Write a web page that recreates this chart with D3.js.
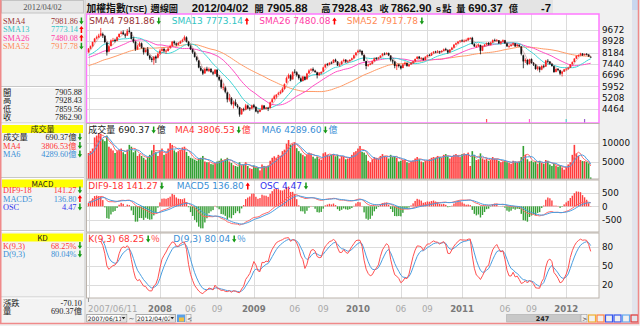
<!DOCTYPE html>
<html><head><meta charset="utf-8">
<script src="https://cdn.jsdelivr.net/npm/d3@7"></script>
<style>body{margin:0;background:#f0f0f0}svg{display:block}</style>
</head><body>
<svg id="c" width="640" height="326"></svg>
<script>
// ---- weekly TAIEX data, 2007/06/11 .. 2012/04/02 (247 weeks) ----
// closes of the 51 weeks before the window (warm-up for the averages)
const priorCloses = [6300,6400,6700,6700,6500,6300,6450,6460,6500,6600,6550,6600,6650,6750,6800,6880,6950,6900,7050,7000,7020,7150,7200,7250,7100,7300,7450,7600,7823,7800,7650,7750,7700,7700,7750,7850,7900,7600,7700,7900,7884,7950,7900,7900,7800,7900,8000,8050,8100,8144,8200];
const priorVolumes = [6200,6800,6500,7000,6600];

const opens = [8200,8450,8610,8890,9110,9190,9310,9400,9280,8850,
8250,8620,8990,9020,8960,9210,9420,9510,9380,9310,
9620,9530,9080,8880,8420,8600,8790,8480,8220,8400,
7980,7790,7680,7920,7850,8110,8300,8420,8280,8290,
8500,8620,8910,8790,8690,8810,8930,9010,9180,8890,
8600,8390,8180,7880,7650,7180,7020,6820,7120,6980,
7110,6880,6790,7050,6580,6380,5850,5880,5550,5080,
5180,4780,4920,4680,4580,4120,4450,4420,4690,4520,
4490,4710,4590,4310,4280,4420,4690,4480,4540,4520,
4910,5120,5280,5420,5510,5590,5790,6200,6510,6680,
6420,6920,6880,6710,6480,6310,6590,6420,6810,7010,
7090,6980,6880,6690,6810,6920,7210,7420,7390,7520,
7510,7710,7590,7330,7410,7610,7710,7560,7620,7710,
7810,8010,8200,8310,8290,8020,7620,7320,7420,7450,
7610,7820,7790,7860,7990,8110,8090,8160,7990,7680,
7590,7280,7390,7290,7170,7410,7490,7280,7410,7510,
7610,7770,7910,7790,7810,7690,7910,8010,7990,8160,
8250,8190,8260,8210,8290,8410,8340,8210,8380,8510,
8710,8790,8910,8980,8940,8970,9010,9140,9150,8740,
8590,8610,8690,8310,8610,8710,8810,8690,8860,9010,
8990,8990,8790,8910,8990,8790,8590,8610,8710,8790,
8610,8690,8580,8000,7620,7690,7430,7750,7480,7390,
7110,7210,7060,7310,7260,7640,7590,7440,7290,6910,
7110,7010,6790,6940,7080,7110,7190,7410,7560,7790,
7970,8010,8110,8020,8080,8050,7905.88];

const highs = [8480,8650,8900,9150,9300,9420,9807,9500,9350,8900,
8700,9050,9150,9100,9250,9450,9600,9650,9450,9740,
9860,9550,9200,8950,8700,8900,8850,8520,8450,8550,
8050,7900,7950,8000,8200,8400,8500,8500,8400,8550,
8700,8950,8980,8850,8880,8980,9100,9309,9250,8950,
8700,8450,8250,7950,7700,7300,7100,7200,7250,7200,
7150,6950,7100,7080,6700,6450,6150,5950,5600,5450,
5250,5000,5100,4800,4600,4520,4550,4800,4750,4600,
4750,4800,4650,4400,4450,4750,4720,4600,4600,4950,
5200,5400,5450,5600,5700,5900,6150,6600,6800,6750,
6950,7084,6950,6750,6550,6650,6620,6850,7080,7150,
7200,7050,6900,6900,6950,7250,7450,7500,7550,7600,
7750,7780,7620,7480,7650,7780,7750,7700,7750,7850,
8050,8200,8380,8395,8330,8060,7650,7450,7520,7650,
7850,7880,7900,8000,8150,8190,8200,8180,8000,7750,
7620,7400,7450,7350,7450,7600,7520,7450,7560,7650,
7800,7950,7960,7880,7850,7950,8050,8100,8200,8280,
8300,8350,8300,8350,8450,8500,8400,8420,8560,8750,
8850,8950,9000,9050,9050,9100,9180,9200,9220,8800,
8700,8780,8700,8650,8750,8850,8880,8900,9050,9100,
9080,9010,8950,9050,9020,8820,8700,8750,8850,8800,
8750,8720,8600,8050,7800,7750,7780,7800,7560,7420,
7300,7280,7350,7400,7700,7750,7620,7480,7300,7150,
7150,7050,6950,7100,7180,7250,7430,7600,7820,8000,
8060,8170,8150,8120,8150,8080,7928.43];

const lows = [8180,8400,8560,8850,9050,9150,9280,9150,8800,7987,
8200,8580,8900,8850,8940,9180,9380,9350,9150,9280,
9500,9050,8800,8300,8350,8560,8450,8050,8180,7950,
7700,7550,7384,7500,7800,8050,8250,8200,8100,8250,
8450,8600,8700,8600,8650,8750,8880,8980,8850,8580,
8350,8100,7850,7600,7150,6950,6708,6780,6950,6900,
6850,6700,6750,6550,6300,5800,5700,5500,4900,4950,
4700,4500,4650,4500,3955,4080,4300,4380,4450,4350,
4450,4500,4250,4150,4250,4400,4450,4420,4328,4500,
4880,5080,5150,5380,5450,5550,5750,6150,6450,6300,
6400,6800,6600,6400,6250,6280,6350,6400,6780,6950,
6950,6850,6480,6650,6750,6900,7180,7300,7350,7420,
7480,7550,7300,7250,7380,7580,7500,7500,7580,7680,
7780,7990,8150,8220,7980,7600,7080,7250,7350,7420,
7590,7700,7720,7820,7950,8020,8050,7950,7600,7450,
7150,7032,7200,7070,7150,7380,7250,7250,7380,7450,
7580,7750,7750,7700,7650,7680,7880,7950,7970,8100,
8150,8150,8100,8180,8270,8300,8100,8150,8350,8480,
8680,8750,8860,8880,8850,8900,8950,9080,8700,8550,
8500,8550,8070,8280,8580,8650,8650,8650,8820,8920,
8900,8750,8700,8850,8750,8550,8500,8580,8650,8550,
8560,8550,8000,7150,7500,7350,7400,7450,7300,7050,
7000,6877,7020,7150,7250,7500,7380,7250,6850,6880,
6950,6700,6609,6900,7000,7050,7160,7380,7540,7760,
7900,7980,7960,7980,8000,7900,7859.56];

const closes = [8443,8600,8883,9100,9200,9300,9450,9300,8880,8200,
8600,8982,9000,8950,9200,9411,9500,9400,9300,9600,
9550,9100,8900,8400,8586,8800,8500,8200,8350,8000,
7800,7700,7900,7800,8100,8300,8412,8300,8300,8450,
8600,8900,8800,8700,8800,8919,9000,9200,8900,8619,
8400,8200,7900,7700,7200,7000,6800,7100,7000,7100,
6900,6800,7046,6600,6400,5900,5900,5600,5100,5200,
4800,4900,4700,4600,4100,4460,4400,4700,4500,4500,
4700,4600,4300,4250,4400,4700,4500,4557,4500,4900,
5100,5300,5400,5500,5600,5800,6100,6500,6700,6400,
6890,6900,6700,6500,6300,6600,6400,6800,7000,7078,
7000,6900,6700,6825,6900,7200,7400,7400,7509,7500,
7700,7600,7340,7400,7600,7700,7582,7600,7700,7800,
8000,8188,8300,8300,8050,7640,7300,7400,7436,7600,
7800,7800,7850,7980,8100,8100,8150,8004,7700,7600,
7300,7374,7300,7150,7400,7500,7300,7400,7500,7600,
7760,7900,7800,7800,7700,7900,8000,8000,8150,8238,
8200,8250,8200,8287,8400,8350,8200,8372,8500,8700,
8800,8900,8973,8950,8960,9000,9140,9145,8750,8600,
8600,8700,8300,8600,8700,8800,8700,8850,9000,9000,
9000,8800,8900,9000,8800,8600,8600,8700,8800,8600,
8700,8600,8100,7600,7700,7426.48,7741,7500,7400,7100,
7225,7050,7300,7250,7650,7600,7450,7300,6900,7100,
7029.26,6800,6930,7072,7120,7180,7400,7550,7780,7960,
8000,8120,8013.38,8074.38,8057.16,7933,7862.90];

// weekly turnover, 億元
const volumes = [7300,7800,8500,11500,12000,12700,12500,11000,10500,12000,
9000,8500,8000,7300,7800,8200,8500,7500,7000,8200,
9500,9000,7500,8000,6500,7000,6500,6000,5500,6200,
6800,8000,9500,7500,6500,8000,8500,6800,7200,8500,
10000,9500,8000,7500,7800,8200,8800,9000,7600,6500,
6000,5800,5500,5200,5800,6000,6500,5000,4800,4800,
4300,4200,4600,5000,5200,5800,5200,5600,6000,5000,
4600,4000,3800,3600,4800,4000,4200,4800,3800,3200,
3000,3900,3400,3300,2600,4200,3800,3600,3800,5200,
6000,6400,6000,6800,6500,7800,8200,9800,10800,9500,
9800,10200,8600,7800,7200,6800,6400,6800,7400,7200,
6300,5800,6200,5800,5500,7200,7500,6800,6500,6800,
7000,6400,6800,5800,6500,6400,5600,5800,6200,6800,
7500,7800,8500,9200,7600,7400,6800,5200,4800,5600,
6200,6000,5800,6500,7000,6500,6200,5800,6800,6200,
6500,6000,5000,5200,5400,5600,4800,4600,5000,5300,
5800,6200,5600,5000,4800,5200,5400,5600,6000,6200,
6000,6500,6200,6000,6800,7000,6400,5800,6200,6800,
7000,6600,6200,7000,7200,7000,7400,3800,7800,6800,
5400,5600,7200,5800,5500,5800,5200,5400,6200,5800,
5600,5200,4800,5000,5200,4800,4600,4400,5200,5000,
4800,4900,6200,9200,6800,5600,5000,5200,4800,5000,
4400,5200,4600,4400,5400,5200,4200,3800,4400,3900,
3600,3800,3400,2800,3600,4200,4800,6800,9500,7200,
6500,5400,5111.48,5100,4935.75,4500,690.37];

// x-axis labels (bar index, text, year?)
const xTicks = [[0,'2007/06/11',0],[35,'2008',1],[50,'06',0],[63,'09',0],[81,'2009',1],[101,'06',0],[115,'09',0],
  [132,'2010',1],[153,'06',0],[166,'09',0],[183,'2011',1],[204,'06',0],[217,'09',0],[234,'2012',1]];
const priceTicks = [9672,8928,8184,7440,6696,5952,5208,4464];
const volTicks = [10000,5000];
const macdTicks = [500,0,-500];
const kdTicks = [80,50,20];
// event marks under the price panel
const eventMarks = [[195,'#ff5555'],[216,'#ff66cc'],[234,'#55cccc'],[243,'#9966cc']];

// readouts of the last week
const lastDate = '2012/04/02';
const ohlcRows = [['開','7905.88'],['高','7928.43'],['低','7859.56'],['收','7862.90']];
const macdText = ['141.27','136.80','4.47'];
const kdText = ['68.25','80.04'];
const change = '-70.10';

// ---------------------------------------------------------------
const svg = d3.select('#c');
const F_SANS = "'DejaVu Sans','Noto Sans CJK TC',sans-serif";
const F_CJK = "'Noto Sans CJK TC','DejaVu Sans',sans-serif";
const F_SERIF = "'Liberation Serif','Noto Sans CJK TC',serif";
const F_BOLD = "'Liberation Sans','Noto Sans CJK TC',sans-serif";
const BLUE = '#4a9ee0';

const n = closes.length, P = priorCloses.length;
const PL = 86.5, PR = 599;
const x = d3.scaleLinear().domain([0, n - 1]).range([88.5, 590.7]);
const pan = {
  price: [14, 123], vol: [123.5, 179], macd: [180, 232], kd: [233, 298]
};
const yPrice = d3.scaleLinear().domain([4464, 9672]).range([109, 30]);
const yVol = d3.scaleLinear().domain([0, 10000]).range([180, 143]);
const yMacd = d3.scaleLinear().domain([-500, 500]).range([219.5, 193.2]);
const yKd = d3.scaleLinear().domain([20, 80]).range([285, 246.7]);

// ---- indicators ----
const allC = priorCloses.concat(closes);
const allH = priorCloses.concat(highs);
const allL = priorCloses.concat(lows);
const allV = priorVolumes.concat(volumes);
function sma(arr, len, off) {
  return d3.range(n).map(i => d3.mean(arr.slice(i + off - len + 1, i + off + 1)));
}
function ema(arr, len) {
  const a = 2 / (len + 1), out = [];
  arr.forEach((v, k) => out.push(k === 0 ? v : out[k - 1] + a * (v - out[k - 1])));
  return out;
}
const sma4 = sma(allC, 4, P), sma13 = sma(allC, 13, P), sma26 = sma(allC, 26, P), sma52 = sma(allC, 52, P);
const vma4 = sma(allV, 4, priorVolumes.length), vma6 = sma(allV, 6, priorVolumes.length);
const e9 = ema(allC, 9), e18 = ema(allC, 18);
const difAll = e9.map((v, k) => v - e18[k]);
const macdAll = ema(difAll, 5);
const dif = difAll.slice(P), macd = macdAll.slice(P);
const osc = dif.map((v, i) => v - macd[i]);
const kAll = [], dAll = [];
let kp = 50, dp = 50;
allC.forEach((c, k) => {
  const lo = d3.min(allL.slice(Math.max(0, k - 8), k + 1));
  const hi = d3.max(allH.slice(Math.max(0, k - 8), k + 1));
  const rsv = hi > lo ? (c - lo) / (hi - lo) * 100 : 50;
  kp = kp * 2 / 3 + rsv / 3; dp = dp * 2 / 3 + kp / 3;
  kAll.push(kp); dAll.push(dp);
});
const kv = kAll.slice(P), dv = dAll.slice(P);
const prevClose = i => allC[i + P - 1];

// ---- background & frame ----
svg.append('rect').attr('width', 640).attr('height', 326).attr('fill', '#f0f0f0');
svg.append('rect').attr('x', 85).attr('y', 0).attr('width', 468).attr('height', 14).attr('fill', '#e4e4e4');
svg.append('rect').attr('x', 632).attr('y', 0).attr('width', 6).attr('height', 323).attr('fill', '#e2e4ec');
svg.append('rect').attr('x', 632).attr('y', 0).attr('width', 6).attr('height', 10).attr('fill', '#c9d6ee');

// panels
const defs = svg.append('defs');
Object.entries(pan).forEach(([k, [t, b]]) => {
  svg.append('rect').attr('x', PL).attr('y', t).attr('width', PR - PL).attr('height', b - t).attr('fill', '#fff');
  defs.append('clipPath').attr('id', 'cp-' + k).append('rect')
    .attr('x', PL).attr('y', t).attr('width', PR - PL).attr('height', b - t);
});

// grid
const grid = svg.append('g').attr('stroke', '#dcdcdc').attr('stroke-width', 1);
Object.values(pan).forEach(([t, b]) => {
  xTicks.forEach(d => grid.append('line').attr('x1', Math.round(x(d[0])) + 0.5).attr('x2', Math.round(x(d[0])) + 0.5).attr('y1', t).attr('y2', b));
});
function hgrid(ticks, y) {
  ticks.forEach(v => grid.append('line').attr('x1', PL).attr('x2', PR).attr('y1', Math.round(y(v)) + 0.5).attr('y2', Math.round(y(v)) + 0.5));
}
hgrid(priceTicks, yPrice); hgrid(volTicks, yVol); hgrid(macdTicks, yMacd); hgrid(kdTicks, yKd);

// ---- price panel ----
const gP = svg.append('g').attr('clip-path', 'url(#cp-price)');
const idx = d3.range(n);
const lineOf = (vals, y) => d3.line().x(i => x(i)).y(i => y(vals[i]));
[[sma52, '#ff9a66'], [sma26, '#ff4fc4'], [sma13, '#3fd6d6']].forEach(([v, c]) => {
  gP.append('path').attr('d', lineOf(v, yPrice)(idx)).attr('fill', 'none').attr('stroke', c).attr('stroke-width', 1);
});
idx.forEach(i => {
  const up = closes[i] >= opens[i];
  const col = up ? '#ff2020' : '#111';
  gP.append('line').attr('x1', x(i)).attr('x2', x(i)).attr('y1', yPrice(highs[i])).attr('y2', yPrice(lows[i]))
    .attr('stroke', col).attr('stroke-width', 0.8);
  const y0 = yPrice(Math.max(opens[i], closes[i])), y1 = yPrice(Math.min(opens[i], closes[i]));
  gP.append('rect').attr('x', x(i) - 0.85).attr('width', 1.7).attr('y', y0).attr('height', Math.max(0.8, y1 - y0)).attr('fill', col);
});
gP.append('path').attr('d', lineOf(sma4, yPrice)(idx)).attr('fill', 'none').attr('stroke', '#a33a3a').attr('stroke-width', 0.6).attr('opacity', 0.6);
eventMarks.forEach(([i, c]) => gP.append('line').attr('x1', x(i)).attr('x2', x(i)).attr('y1', 119).attr('y2', 123).attr('stroke', c).attr('stroke-width', 1.2));

// ---- volume panel ----
const gV = svg.append('g').attr('clip-path', 'url(#cp-vol)');
idx.forEach(i => {
  const up = closes[i] >= prevClose(i);
  gV.append('rect').attr('x', x(i) - 0.8).attr('width', 1.6).attr('y', yVol(volumes[i]))
    .attr('height', yVol(0) - yVol(volumes[i])).attr('fill', up ? '#ff3b3b' : '#33a033');
});
gV.append('path').attr('d', lineOf(vma4, yVol)(idx)).attr('fill', 'none').attr('stroke', '#ff6a6a').attr('stroke-width', 1);
gV.append('path').attr('d', lineOf(vma6, yVol)(idx)).attr('fill', 'none').attr('stroke', BLUE).attr('stroke-width', 1);

// ---- MACD panel ----
const gM = svg.append('g').attr('clip-path', 'url(#cp-macd)');
const oscMax = d3.max(osc, v => Math.abs(v));
const zeroY = yMacd(0);
const yOsc = d3.scaleLinear().domain([-oscMax, oscMax]).range([zeroY + 22, zeroY - 22]);
idx.forEach(i => {
  const v = osc[i];
  gM.append('rect').attr('x', x(i) - 0.7).attr('width', 1.4)
    .attr('y', Math.min(yOsc(v), zeroY)).attr('height', Math.abs(yOsc(v) - zeroY))
    .attr('fill', v >= 0 ? '#ff4040' : '#38a038');
});
gM.append('path').attr('d', lineOf(dif, yMacd)(idx)).attr('fill', 'none').attr('stroke', '#ff6a6a').attr('stroke-width', 1);
gM.append('path').attr('d', lineOf(macd, yMacd)(idx)).attr('fill', 'none').attr('stroke', BLUE).attr('stroke-width', 1);

// ---- KD panel ----
const gK = svg.append('g').attr('clip-path', 'url(#cp-kd)');
const kdIdx = idx.filter(i => i >= 6);
gK.append('path').attr('d', lineOf(dv, yKd)(kdIdx)).attr('fill', 'none').attr('stroke', BLUE).attr('stroke-width', 1);
gK.append('path').attr('d', lineOf(kv, yKd)(kdIdx)).attr('fill', 'none').attr('stroke', '#ff5050').attr('stroke-width', 1);

// panel frames
Object.entries(pan).forEach(([k, [t, b]]) => {
  svg.append('rect').attr('x', PL).attr('y', t).attr('width', PR - PL).attr('height', b - t).attr('fill', 'none')
    .attr('stroke', k === 'price' ? '#ff78ff' : '#bcb4ac').attr('stroke-width', k === 'price' ? 1.5 : 1);
});

// ---- right axis labels ----
const axisLab = (ticks, y) => ticks.forEach(v => svg.append('text').attr('x', 602).attr('y', y(v) + 3.2)
  .attr('font-family', F_SANS).attr('font-size', 8.8).attr('fill', '#111').text(v));
axisLab(priceTicks, yPrice); axisLab(volTicks, yVol); axisLab(macdTicks, yMacd); axisLab(kdTicks, yKd);

// ---- x-axis labels ----
xTicks.forEach(([i, t, yr]) => {
  svg.append('text').attr('x', i === 0 ? 88 : x(i)).attr('y', 311.5).attr('text-anchor', i === 0 ? 'start' : 'middle')
    .attr('font-family', F_SANS).attr('font-size', 8.6).attr('font-weight', yr ? 'bold' : 'normal')
    .attr('fill', yr ? '#7a7a7a' : '#a8a8a8').text(t);
});
svg.append('line').attr('x1', 88.5).attr('x2', 88.5).attr('y1', 298).attr('y2', 302).attr('stroke', '#999');

// ---- arrows & legends ----
function arrow(g, cx, cy, dir) {
  const s = dir === 'up' ? -1 : 1;
  const p = `M${cx - 0.75},${cy - 3.5 * s}L${cx + 0.75},${cy - 3.5 * s}L${cx + 0.75},${cy + 0.3 * s}L${cx + 2.2},${cy + 0.3 * s}L${cx},${cy + 3.4 * s}L${cx - 2.2},${cy + 0.3 * s}L${cx - 0.75},${cy + 0.3 * s}Z`;
  g.append('path').attr('d', p).attr('fill', dir === 'up' ? '#ff0000' : '#159915');
}
function legend(xp, y, text, color, dir, suffix) {
  const t = svg.append('text').attr('x', xp).attr('y', y).attr('fill', color)
    .attr('font-family', F_SANS).attr('font-size', 9).text(text);
  const w = t.node().getComputedTextLength();
  arrow(svg, xp + w + 4, y - 3.3, dir);
  if (suffix) svg.append('text').attr('x', xp + w + 7).attr('y', y).attr('fill', color)
    .attr('font-family', F_CJK).attr('font-size', 9).text(suffix);
}
const f2 = d3.format('.2f');
const smaDefs = [['SMA4', sma4, '#993333', 89.3], ['SMA13', sma13, '#33c4c4', 171.7], ['SMA26', sma26, '#ff3fa6', 259.3], ['SMA52', sma52, '#ff8a55', 346.7]];
const dirOf = a => a[n - 1] >= a[n - 2] ? 'up' : 'down';
smaDefs.forEach(([lab, a, c, xp]) => legend(xp, 24.3, lab + ' ' + f2(a[n - 1]), c, dirOf(a)));
legend(88.3, 133.3, '成交量 ' + f2(volumes[n - 1]), '#222', 'down', '億');
legend(175, 133.3, 'MA4 ' + f2(vma4[n - 1]), '#ff3333', dirOf(vma4), '億');
legend(261.7, 133.3, 'MA6 ' + f2(vma6[n - 1]), '#3a8fd6', dirOf(vma6), '億');
legend(88.3, 189.3, 'DIF9-18 ' + macdText[0], '#ff3333', 'down');
legend(176.7, 189.3, 'MACD5 ' + macdText[1], '#3a8fd6', 'up');
legend(260, 189.3, 'OSC ' + macdText[2], '#3333ee', 'down');
legend(88.3, 242.3, 'K(9,3) ' + kdText[0], '#ff3333', 'down', '%');
legend(173.3, 242.3, 'D(9,3) ' + kdText[1], '#3a8fd6', 'down', '%');

// ---- title ----
// [text, x, font-size, cjk?]
const titleSegs = [['加權指數', 86.5, 9.8, 1], ['(TSE)', 125.5, 8.2, 0], ['週線圖', 150.5, 9.2, 1], [lastDate, 191.7, 11.3, 0],
  ['開', 254.5, 9.2, 1], [ohlcRows[0][1], 266.7, 11.3, 0], ['高', 321.2, 9.2, 1], [ohlcRows[1][1], 331.7, 11.3, 0],
  ['收', 379.5, 9.2, 1], [ohlcRows[3][1], 390.7, 11.3, 0], ['s', 435.8, 9.5, 0], ['點', 442.3, 9.2, 1],
  ['量', 456.3, 9.2, 1], [f2(volumes[n - 1]), 468.3, 11.3, 0], ['億', 508.7, 9.2, 1], ['-7', 541, 11.3, 0]];
titleSegs.forEach(([t, xp, fs, cjk]) => svg.append('text').attr('x', xp).attr('y', 12).attr('font-family', cjk ? F_CJK : F_BOLD)
  .attr('font-weight', 'bold').attr('font-size', fs).attr('fill', '#111').text(t));

// ---- left info column ----
const L = svg.append('g');
L.append('rect').attr('x', 0).attr('y', 0).attr('width', 85).attr('height', 323).attr('fill', '#f3f3f3');
L.append('rect').attr('x', 1.5).attr('y', 0.5).attr('width', 82).attr('height', 12.5).attr('fill', '#e6e6e6').attr('stroke', '#c4c4c4');
L.append('text').attr('x', 42.5).attr('y', 10).attr('text-anchor', 'middle').attr('font-family', F_SERIF)
  .attr('font-size', 8.5).attr('fill', '#555').text(lastDate);
[86.5, 123, 177.5, 230.5, 297].forEach(y => {
  L.append('line').attr('x1', 1).attr('x2', 84).attr('y1', y).attr('y2', y).attr('stroke', '#c8c8c8');
  L.append('line').attr('x1', 1).attr('x2', 84).attr('y1', y + 1).attr('y2', y + 1).attr('stroke', '#fff');
});
L.append('line').attr('x1', 85).attr('x2', 85).attr('y1', 0).attr('y2', 323).attr('stroke', '#c8c8c8');
function row(y, label, value, color, dir, vx) {
  L.append('text').attr('x', 3).attr('y', y).attr('font-family', F_SERIF).attr('font-size', 8.3).attr('fill', color).text(label);
  L.append('text').attr('x', vx).attr('y', y).attr('text-anchor', 'end').attr('font-family', F_SERIF).attr('font-size', 8.3).attr('fill', color).text(value);
  if (dir) arrow(L, vx + 3.4, y - 3, dir);
}
smaDefs.forEach(([lab, a, c], k) => row(24 + k * 8.4, lab, f2(a[n - 1]), c, dirOf(a), 78));
ohlcRows.forEach(([lab, v], k) => row(95 + k * 8.3, lab, v, '#222', null, 82));
function header(y, t) {
  L.append('rect').attr('x', 2).attr('y', y).attr('width', 81).attr('height', 8).attr('fill', '#ffff00');
  L.append('text').attr('x', 42.5).attr('y', y + 7).attr('text-anchor', 'middle').attr('font-family', F_CJK)
    .attr('font-size', 8).attr('fill', '#222').text(t);
}
header(125, '成交量');
row(140, '成交量', f2(volumes[n - 1]) + '億', '#222', 'down', 76.5);
row(148.5, 'MA4', f2(vma4[n - 1]) + '億', '#ff3333', dirOf(vma4), 76.5);
row(157, 'MA6', f2(vma6[n - 1]) + '億', '#3a8fd6', dirOf(vma6), 76.5);
header(179.5, 'MACD');
row(193, 'DIF9-18', macdText[0], '#ff3333', 'down', 76.5);
row(201.5, 'MACD5', macdText[1], '#3a8fd6', 'up', 76.5);
row(210, 'OSC', macdText[2], '#3333ee', 'down', 76.5);
header(233.5, 'KD');
row(248.5, 'K(9,3)', kdText[0] + '%', '#ff3333', 'down', 76.5);
row(257, 'D(9,3)', kdText[1] + '%', '#3a8fd6', 'down', 76.5);
row(306, '漲跌', change, '#222', null, 82);
row(314.3, '量', f2(volumes[n - 1]) + '億', '#222', null, 82);

// ---- bottom controls ----
const B = svg.append('g').attr('font-family', F_SANS);
function dateBox(xp, w, t) {
  B.append('rect').attr('x', xp).attr('y', 314.5).attr('width', w).attr('height', 7.5).attr('fill', '#fff').attr('stroke', '#8a8a8a').attr('stroke-width', 0.7);
  B.append('text').attr('x', xp + 1).attr('y', 320.6).attr('font-size', 6).attr('fill', '#222').text(t);
  B.append('rect').attr('x', xp + w - 6).attr('y', 315).attr('width', 5.5).attr('height', 6.5).attr('fill', '#e0e0e0');
  B.append('path').attr('d', `M${xp + w - 5},317 h3.5 l-1.75,2.2z`).attr('fill', '#222');
}
dateBox(86.8, 40, xTicks[0][1]);
B.append('text').attr('x', 128.5).attr('y', 320.5).attr('font-size', 7).attr('fill', '#333').text('~');
dateBox(136, 39.5, lastDate);
B.append('rect').attr('x', 177).attr('y', 314.5).attr('width', 8).attr('height', 7.5).attr('fill', '#5aa0e6');
B.append('rect').attr('x', 179).attr('y', 317.5).attr('width', 5).attr('height', 4).attr('fill', '#f0c040');
B.append('rect').attr('x', 186).attr('y', 314.5).attr('width', 5).attr('height', 7.5).attr('fill', '#f4f4f4').attr('stroke', '#999').attr('stroke-width', 0.6);
B.append('text').attr('x', 187).attr('y', 320.5).attr('font-size', 6).attr('fill', '#222').text('<');
B.append('rect').attr('x', 506.7).attr('y', 314.5).attr('width', 73.5).attr('height', 7.5).attr('fill', '#c8c8c8').attr('stroke', '#aaa').attr('stroke-width', 0.6);
B.append('text').attr('x', 542.5).attr('y', 320.8).attr('text-anchor', 'middle').attr('font-size', 6.5).attr('font-weight', 'bold').attr('fill', '#222').text(n);
B.append('rect').attr('x', 581).attr('y', 314.5).attr('width', 6).attr('height', 7.5).attr('fill', '#eee').attr('stroke', '#999').attr('stroke-width', 0.6);
B.append('text').attr('x', 582.3).attr('y', 320.5).attr('font-size', 6).attr('fill', '#222').text('>');
[['#f0b030', 588.5], ['#ff8040', 597], ['#3355ee', 605.5], ['#3355ee', 614], ['#66aaee', 622.5], ['#dd3333', 631]].forEach(([c, xp]) => {
  B.append('rect').attr('x', xp).attr('y', 315).attr('width', 7).attr('height', 7).attr('fill', 'none').attr('stroke', c).attr('stroke-width', 1.2);
});

// outer border
svg.append('path').attr('d', 'M0.75,0 V323.5 H638.5 V0').attr('fill', 'none').attr('stroke', '#f08a8a').attr('stroke-width', 1.5);
</script>
</body></html>
